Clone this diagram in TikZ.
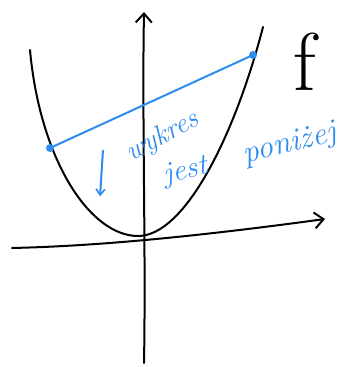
\documentclass[tikz,border=0pt]{standalone}
\usepackage{fontspec}
\usetikzlibrary{arrows.meta}
\definecolor{pen}{RGB}{45,140,240}
\begin{document}
\begin{tikzpicture}[x=1pt,y=-1pt,
  ink/.style={line width=2pt,line cap=round,line join=round},
  blueink/.style={ink,draw=pen},
  vtip/.style={-{Straight Barb[length=9pt,width=16pt,line width=2pt]}},
  dot/.style={circle,fill=pen,inner sep=0pt,minimum size=8pt},
  note/.style={text=pen,inner sep=0pt}]
\useasboundingbox (0,0) rectangle (347,367);
% axes
\coordinate (ybot) at (144,363);
\coordinate (ytop) at (144,12);
\coordinate (xleft) at (12,248);
\coordinate (xright) at (325,219);
\draw[ink,vtip] (ybot) .. controls (146,250) and (142,120) .. (ytop);
\draw[ink,vtip] (xleft) .. controls (100,246) and (200,236) .. (xright);
% parabola
\coordinate (pl) at (30,50);
\coordinate (pm) at (138,236);
\coordinate (pr) at (263,27);
\draw[ink] (pl) .. controls (40,160) and (90,236) .. (pm)
  .. controls (185,236) and (235,135) .. (pr);
\node[font=\fontsize{82}{82}\selectfont,inner sep=0pt] (f) at (305,62) {f};
% chord
\node[dot] (pa) at (50,148) {};
\node[dot] (pb) at (253,55) {};
\draw[blueink] (pa) -- (pb);
% down arrow
\node (arrtop) at (103,150) [inner sep=0pt] {};
\node (arrbot) at (100,197) [inner sep=0pt] {};
\draw[blueink,-{Straight Barb[length=6pt,width=9pt,line width=1.6pt]}] (arrtop) -- (arrbot);
% notes
\node[note,rotate=28,font=\itshape\fontsize{28}{28}\selectfont] (w1) at (163,137) {wykres};
\node[note,rotate=12,font=\itshape\fontsize{30}{30}\selectfont] (w2) at (186,172) {jest};
\node[note,rotate=14,font=\itshape\fontsize{32}{32}\selectfont] (w3) at (290,145) {poniżej};
\end{tikzpicture}
\end{document}
